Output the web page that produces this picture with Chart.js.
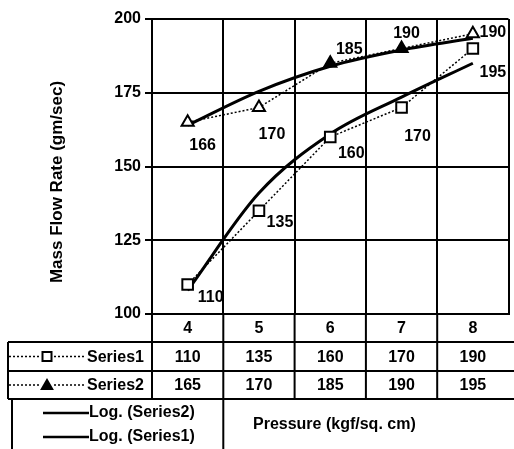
<!DOCTYPE html>
<html><head><meta charset="utf-8">
<script src="https://cdn.jsdelivr.net/npm/chart.js@4"></script>
<style>
html,body{margin:0;padding:0;background:#fff;overflow:hidden}
#wrap{width:514px;height:449px;overflow:hidden;position:relative;background:#fff}
canvas{display:block}
</style></head>
<body><div id="wrap"><canvas id="c" width="518" height="449"></canvas></div>
<script>
// ---- data ----
const categories = ['4', '5', '6', '7', '8'];
const series1 = [110, 135, 160, 170, 190];
const series2 = [165, 170, 185, 190, 195];
const series1Labels = ['110', '135', '160', '170', '195'];
const series2Labels = ['166', '170', '185', '190', '190'];
const logSeries1 = [108, 141, 161, 173.5, 185];
const logSeries2 = [164, 175.5, 184, 189.5, 193.5];
const yTicks = [100, 125, 150, 175, 200];
const seriesNames = ['Series1', 'Series2'];
const trendNames = ['Log. (Series2)', 'Log. (Series1)'];
const xTitle = 'Pressure (kgf/sq. cm)';
const yTitle = 'Mass Flow Rate (gm/sec)';

// ---- style ----
const FAM = "'Liberation Sans', Arial, sans-serif";
const F16 = 'bold 16px ' + FAM;
const labelOffsets1 = [[23, 13], [21, 12], [21, 17], [16, 29], [20, 24]];
const labelOffsets2 = [[15, 23], [13, 27], [19, -14], [5, -15], [20, -1]];

function drawSquare(ctx, x, y, s) {
  ctx.save(); ctx.fillStyle = '#fff'; ctx.strokeStyle = '#000'; ctx.lineWidth = 2;
  ctx.fillRect(x - s / 2, y - s / 2, s, s); ctx.strokeRect(x - s / 2, y - s / 2, s, s); ctx.restore();
}
function drawTriangle(ctx, x, y, r, fill) {
  ctx.save(); ctx.fillStyle = fill; ctx.strokeStyle = '#000'; ctx.lineWidth = 2;
  ctx.beginPath();
  ctx.moveTo(x, y - r); ctx.lineTo(x + r * 0.866, y + r * 0.5); ctx.lineTo(x - r * 0.866, y + r * 0.5);
  ctx.closePath(); ctx.fill(); ctx.stroke(); ctx.restore();
}

const tablePlugin = {
  id: 'tablePlugin',
  afterDraw(chart) {
    const ctx = chart.ctx;
    const xs = chart.scales.x;
    const ca = chart.chartArea;
    const centers = categories.map((c, i) => xs.getPixelForValue(i));
    const half = (centers[1] - centers[0]) / 2;
    const bounds = centers.map(c => c - half).concat([centers[centers.length - 1] + half]);
    const r0 = ca.bottom, r1 = r0 + 28, r2 = r1 + 29, r3 = r2 + 28;
    const W = chart.width;

    ctx.save();
    ctx.strokeStyle = '#000';
    ctx.lineWidth = 2;
    ctx.setLineDash([]);
    // vertical lines through table
    ctx.beginPath();
    bounds.forEach((b, i) => {
      if (i === bounds.length - 1) return;
      ctx.moveTo(b, r0); ctx.lineTo(b, i === 1 ? chart.height : r3);
    });
    // horizontal rows
    ctx.moveTo(8, r1); ctx.lineTo(W, r1);
    ctx.moveTo(8, r2); ctx.lineTo(W, r2);
    ctx.moveTo(8, r3); ctx.lineTo(W, r3);
    // left borders
    ctx.moveTo(8, r1); ctx.lineTo(8, r3);
    ctx.moveTo(12, r3); ctx.lineTo(12, chart.height);
    ctx.stroke();

    // table values
    ctx.fillStyle = '#000';
    ctx.font = F16;
    ctx.textAlign = 'center';
    ctx.textBaseline = 'middle';
    const m1 = (r1 + r2) / 2 + 1, m2 = (r2 + r3) / 2 + 1;
    series1.forEach((v, i) => ctx.fillText(String(v), centers[i], m1));
    series2.forEach((v, i) => ctx.fillText(String(v), centers[i], m2));

    // row legend keys
    ctx.textAlign = 'left';
    [m1, m2].forEach((m, k) => {
      ctx.save();
      ctx.lineWidth = 1.5; ctx.setLineDash([2, 2]);
      ctx.beginPath(); ctx.moveTo(9, m - 1); ctx.lineTo(41, m - 1); ctx.moveTo(54, m - 1); ctx.lineTo(86, m - 1); ctx.stroke();
      ctx.restore();
      if (k === 0) drawSquare(ctx, 47, m - 1, 9); else drawTriangle(ctx, 47, m, 6, '#000');
      ctx.fillText(seriesNames[k], 87, m);
    });

    // trendline legend box
    const l1 = r3 + 14, l2 = r3 + 38;
    ctx.save(); ctx.lineWidth = 2.5;
    ctx.beginPath(); ctx.moveTo(43, l1); ctx.lineTo(89, l1); ctx.moveTo(43, l2); ctx.lineTo(89, l2); ctx.stroke();
    ctx.restore();
    ctx.fillText(trendNames[0], 89, l1);
    ctx.fillText(trendNames[1], 89, l2);

    // x title
    ctx.fillText(xTitle, 253, r3 + 26);

    // y title
    ctx.save();
    ctx.translate(57, 182);
    ctx.rotate(-Math.PI / 2);
    ctx.textAlign = 'center';
    ctx.font = 'bold 17px ' + FAM;
    ctx.fillText(yTitle, 0, 0);
    ctx.restore();

    // data labels
    ctx.textAlign = 'center';
    ctx.font = F16;
    const meta1 = chart.getDatasetMeta(0), meta2 = chart.getDatasetMeta(1);
    meta1.data.forEach((p, i) => ctx.fillText(series1Labels[i], p.x + labelOffsets1[i][0], p.y + labelOffsets1[i][1]));
    meta2.data.forEach((p, i) => ctx.fillText(series2Labels[i], p.x + labelOffsets2[i][0], p.y + labelOffsets2[i][1]));
    ctx.restore();
  }
};

const tickFont = { family: FAM, size: 16, weight: 'bold' };

new Chart(document.getElementById('c').getContext('2d'), {
  type: 'line',
  data: {
    labels: categories,
    datasets: [
      { label: seriesNames[0], data: series1, borderColor: '#000', borderWidth: 1.5, borderDash: [2, 2],
        pointStyle: 'rect', pointRadius: 7.5, pointBorderWidth: 2, pointBackgroundColor: '#fff', pointBorderColor: '#000',
        fill: false, tension: 0 },
      { label: seriesNames[1], data: series2, borderColor: '#000', borderWidth: 1.5, borderDash: [2, 2],
        pointStyle: 'triangle', pointRadius: 7, pointBorderWidth: 2,
        pointBackgroundColor: ['#fff', '#fff', '#000', '#000', '#fff'], pointBorderColor: '#000',
        fill: false, tension: 0 },
      { label: trendNames[0], data: logSeries2, borderColor: '#000', borderWidth: 3, pointRadius: 0,
        fill: false, cubicInterpolationMode: 'monotone' },
      { label: trendNames[1], data: logSeries1, borderColor: '#000', borderWidth: 3, pointRadius: 0,
        fill: false, cubicInterpolationMode: 'monotone' }
    ]
  },
  options: {
    responsive: false,
    animation: false,
    devicePixelRatio: 1,
    layout: { padding: { left: 0, right: 1, top: 19, bottom: 0 } },
    plugins: { legend: { display: false }, tooltip: { enabled: false }, title: { display: false } },
    scales: {
      x: {
        type: 'category', offset: true,
        grid: { offset: true, color: '#000', lineWidth: 2, drawTicks: false },
        border: { color: '#000', width: 2 },
        ticks: { color: '#000', font: tickFont, padding: 5, maxRotation: 0 },
        afterFit(s) { s.height = 135; }
      },
      y: {
        min: 100, max: 200,
        afterBuildTicks(s) { s.ticks = yTicks.map(v => ({ value: v })); },
        grid: { color: '#000', lineWidth: 2, tickLength: 7 },
        border: { color: '#000', width: 2 },
        ticks: { color: '#000', font: tickFont, padding: 4 },
        afterFit(s) { s.width = 152; }
      }
    }
  },
  plugins: [tablePlugin]
});
</script>
</body></html>
